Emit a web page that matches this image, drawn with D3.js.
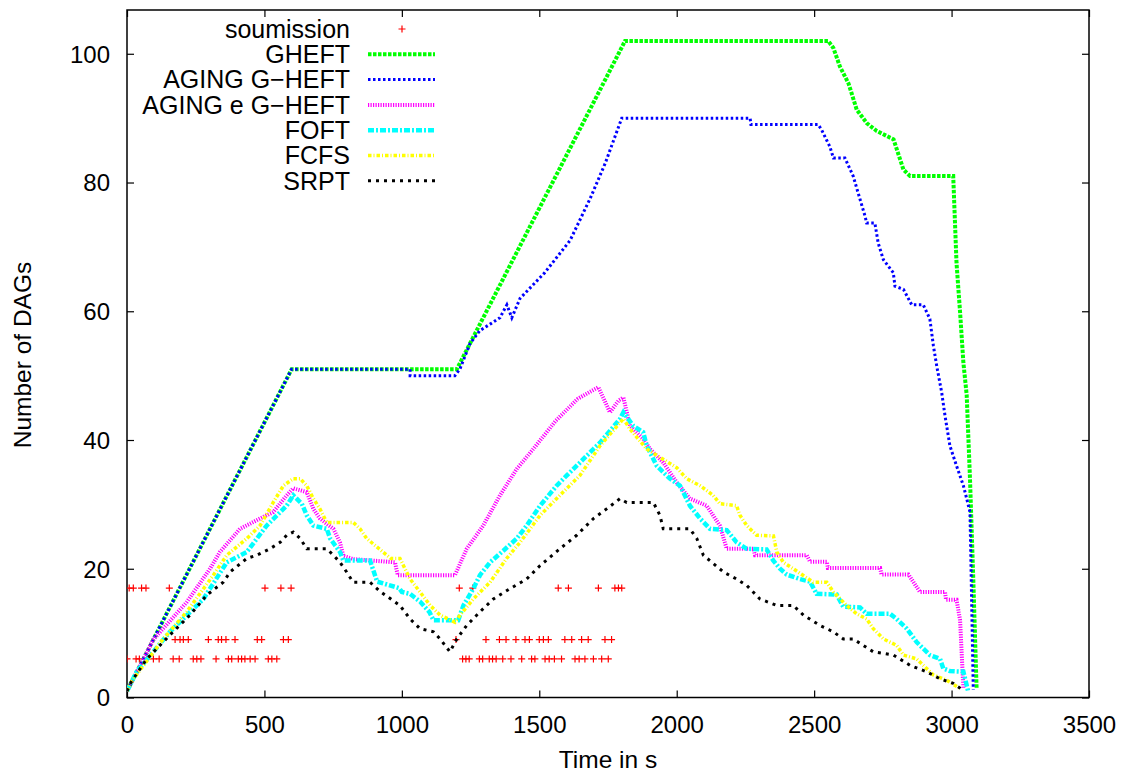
<!DOCTYPE html>
<html>
<head>
<meta charset="utf-8">
<title>Number of DAGs</title>
<script src="https://cdn.jsdelivr.net/npm/d3@7"></script>
<style>
  body { margin: 0; background: #fff; }
  text { font-family: "Liberation Sans", Arial, Helvetica, sans-serif; }
</style>
</head>
<body>
<div id="chart"></div>
<script>
// values: [time in s, number of DAGs]
const gheft = [[0,1],[599,51],[1200,51],[1721,94.4],[1812,102],[2551,102],[2570,100.9],[2594,98],[2625,95.4],[2655,91.3],[2692,89.2],[2728,88],[2789,86.7],[2825,82],[2849,81],[3006,81],[3018,67.5],[3031,59.8],[3043,52],[3055,47],[3067,34],[3079,18.4],[3091,1.5]]

const agingGheft = [[0,1],[599,51],[1030,51],[1030,50],[1193,50],[1211,51],[1248,55],[1284,57],[1321,58],[1357,59],[1382,61],[1400,59],[1430,62],[1520,66],[1612,71],[1685,77.5],[1740,83],[1800,90],[2267,90],[2270,89],[2515,89],[2527,88.2],[2557,85.6],[2570,83.8],[2612,83.8],[2642,81],[2660,78.4],[2685,74.8],[2691,73.7],[2721,73.7],[2733,70.6],[2752,68],[2788,66],[2794,63.9],[2825,63.4],[2855,61],[2897,61],[2921,58.8],[2934,54.6],[2946,51.5],[2964,47.4],[2976,43.8],[2994,39.1],[3018,36],[3043,32.9],[3055,30.9],[3067,28.8],[3079,1.2]]

const agingEGheft = [[0,1],[96,9],[217,14.8],[302,20],[338,22.6],[411,26.2],[484,27.8],[532,28.8],[581,31.4],[605,32.5],[654,31.9],[678,29.3],[702,27.8],[751,26.2],[775,24.1],[787,22],[823,21.5],[975,21],[985,19],[1193,19],[1236,23.1],[1296,26.7],[1357,31.4],[1418,35.5],[1478,38.6],[1560,43],[1640,46.4],[1685,47.5],[1715,48.2],[1757,44.3],[1790,46.2],[1806,46.6],[1830,42.2],[1878,40.2],[1903,38.6],[1951,36.5],[2000,33.4],[2048,30.9],[2109,29.8],[2157,26.7],[2182,23.1],[2279,23.1],[2285,22.1],[2473,22.1],[2485,21.1],[2546,21.1],[2550,20.1],[2740,20.1],[2745,19.1],[2843,19.1],[2885,16.4],[2976,16.4],[2980,15.2],[3018,15.2],[3031,12],[3043,1.4]]

const foft = [[0,1],[35,4],[156,10.2],[278,15.3],[363,21],[436,22.6],[508,26.7],[581,29.8],[605,31.4],[636,30.1],[654,28.3],[678,26.7],[727,26.2],[739,24.7],[775,22.6],[787,21.3],[884,21.3],[910,18],[990,17],[1000,16.4],[1030,16.1],[1066,14.9],[1100,13.3],[1115,12],[1205,12],[1224,14.3],[1260,16.9],[1284,19],[1321,21],[1369,22.8],[1418,24.7],[1454,26.7],[1503,29.8],[1563,32.9],[1600,34.5],[1648,36.5],[1697,38.6],[1721,39.6],[1794,43.3],[1806,44.3],[1842,42.2],[1878,41.2],[1891,39.1],[1927,36],[1975,34],[2012,32.9],[2048,29.8],[2085,27.8],[2121,26.2],[2182,26],[2218,24.1],[2255,23.1],[2327,23],[2351,21.3],[2376,20],[2400,19.1],[2448,18.4],[2485,18],[2509,16.1],[2582,16],[2606,14.1],[2667,14],[2691,13],[2776,13],[2800,12.2],[2837,10.7],[2873,8.6],[2921,6.6],[2958,6],[2970,4.5],[2994,4.1],[3043,4],[3055,1.9],[3060,1]]

const fcfs = [[0,1],[15,2.4],[132,9.1],[217,13.3],[314,19],[363,22.1],[436,24.7],[484,26.7],[532,30.3],[569,32.9],[605,34],[630,34],[654,32.9],[678,30.9],[702,29.3],[727,27.2],[823,27.2],[848,26.2],[872,24.7],[920,23],[960,21.6],[993,21.6],[1030,18.4],[1066,16.4],[1103,14.3],[1139,12.8],[1193,11.7],[1212,12.8],[1260,15.3],[1321,17.9],[1381,21.6],[1430,24.1],[1503,28.3],[1575,31.4],[1648,34.5],[1721,39.1],[1794,42.7],[1806,43.3],[1830,41.7],[1891,38.6],[1951,37],[2000,35.7],[2036,34],[2085,32.9],[2133,31.4],[2157,30.1],[2218,29.8],[2230,28.3],[2255,26.7],[2291,25.2],[2352,25.1],[2364,22.6],[2388,21],[2424,20],[2497,17.9],[2546,17.9],[2570,16.4],[2618,14.3],[2655,13],[2691,12.2],[2715,10.7],[2752,9.1],[2800,8.1],[2825,6.6],[2873,6],[2897,5],[2934,3.5],[2982,2.7],[3031,1.4]]

const srpt = [[0,1],[15,2.4],[72,6],[156,9.7],[229,12.8],[290,15.9],[350,17.9],[375,19.5],[436,21.6],[472,22.1],[520,23.1],[557,24.1],[581,25.2],[605,25.7],[630,24.7],[654,23.1],[727,23.1],[751,22.1],[775,21],[799,19.5],[823,17.9],[884,17.9],[920,16.5],[960,15.3],[993,14.3],[1030,12.2],[1066,10.7],[1115,10.2],[1139,9.1],[1175,7.1],[1200,9.1],[1236,11.2],[1284,13.3],[1333,15.3],[1393,16.9],[1454,18.4],[1503,20.5],[1575,23.1],[1636,25.2],[1697,27.8],[1745,29.3],[1794,30.9],[1818,30.3],[1915,30.3],[1939,28.3],[1951,26.2],[2048,26.2],[2073,24.7],[2097,22.1],[2170,19.5],[2218,18.4],[2255,17.4],[2303,15.3],[2364,14.3],[2424,14.3],[2461,12.8],[2521,11.2],[2570,10.2],[2606,9.1],[2642,9.1],[2715,7.1],[2788,6.6],[2849,5],[2909,4],[2958,2.9],[3006,2.2],[3043,1.1]]

// submission times, one list per level seen in the picture
const subLevels = [17, 9, 6]
const subTimes17 = [8,23,53,69,154,502,560,597,1209,1258,1569,1606,1715,1775,1788,1800]
const subTimes9 = [175,193,205,223,296,332,344,360,393,474,490,569,587,1197,1306,1355,1379,1415,1448,1464,1500,1515,1533,1593,1618,1654,1678,1739,1763]
const subTimes6 = [0,33,45,72,96,117,168,190,241,254,269,324,369,381,405,417,429,448,466,514,527,545,1221,1233,1245,1282,1294,1318,1330,1343,1367,1397,1436,1472,1484,1521,1536,1555,1581,1630,1645,1666,1697,1727,1751]

const xTicks = [0, 500, 1000, 1500, 2000, 2500, 3000, 3500]
const yTicks = [0, 20, 40, 60, 80, 100]

const w = 1131
const h = 778
const mLeft = 127, mRight = 1089, mTop = 10, mBottom = 697.5

const svg = d3.select("#chart").append("svg")
    .attr("width", w)
    .attr("height", h)

const x = d3.scaleLinear().domain([0, 3500]).range([mLeft, mRight])
const y = d3.scaleLinear().domain([0, 106.8]).range([mBottom, mTop])

svg.append("clipPath").attr("id", "clip")
    .append("rect")
    .attr("x", mLeft).attr("y", mTop)
    .attr("width", mRight - mLeft).attr("height", mBottom - mTop)

// axes, ticks pointing inwards on all four sides
const tickFont = "24px"
const gx = svg.append("g")
    .attr("transform", `translate(0,${mBottom})`)
    .call(d3.axisBottom(x).tickValues(xTicks).tickSize(-7).tickPadding(0).tickFormat(d3.format("d")))
gx.selectAll("text").attr("y", 35).attr("dy", 0).style("font-size", tickFont).attr("fill", "#000")

svg.append("g")
    .attr("transform", `translate(0,${mTop})`)
    .call(d3.axisTop(x).tickValues(xTicks).tickSize(-7).tickFormat(""))

const gy = svg.append("g")
    .attr("transform", `translate(${mLeft},0)`)
    .call(d3.axisLeft(y).tickValues(yTicks).tickSize(-7).tickPadding(0))
gy.selectAll("text").attr("x", -17).attr("dy", "0.35em").style("font-size", tickFont).attr("fill", "#000")

svg.append("g")
    .attr("transform", `translate(${mRight},0)`)
    .call(d3.axisRight(y).tickValues(yTicks).tickSize(-7).tickFormat(""))

svg.selectAll(".domain").remove()
svg.selectAll(".tick line").attr("stroke", "#000").attr("stroke-width", 1.2)

svg.append("rect")
    .attr("x", mLeft).attr("y", mTop)
    .attr("width", mRight - mLeft).attr("height", mBottom - mTop)
    .attr("fill", "none").attr("stroke", "#000").attr("stroke-width", 1.5)

// series
const series = [
    { name: "GHEFT", data: gheft, color: "#00ff00", width: 4, dash: "3.5,1.5" },
    { name: "AGING G\u2212HEFT", data: agingGheft, color: "#0000ff", width: 3, dash: "2.5,2.5" },
    { name: "AGING e G\u2212HEFT", data: agingEGheft, color: "#ff00ff", width: 4, dash: "1.2,1.3" },
    { name: "FOFT", data: foft, color: "#00ffff", width: 4.5, dash: "6,2,2,2" },
    { name: "FCFS", data: fcfs, color: "#ffff00", width: 3.5, dash: "3.5,2,1,2" },
    { name: "SRPT", data: srpt, color: "#000000", width: 3, dash: "3,5" }
]

const line = d3.line().x(d => x(d[0])).y(d => y(d[1]))

const plot = svg.append("g").attr("clip-path", "url(#clip)")

const subs = [subTimes17, subTimes9, subTimes6]
    .flatMap((times, i) => times.map(t => [t, subLevels[i]]))

const cross = "M-3.5,0H3.5M0,-3.5V3.5"
plot.selectAll(".sub")
    .data(subs)
    .enter()
    .append("path")
    .attr("class", "sub")
    .attr("transform", d => `translate(${x(d[0])},${y(d[1])})`)
    .attr("d", cross)
    .attr("stroke", "#ff0000")
    .attr("stroke-width", 1.2)

series.forEach(s => {
    plot.append("path")
        .datum(s.data)
        .attr("d", line)
        .attr("fill", "none")
        .attr("stroke", s.color)
        .attr("stroke-width", s.width)
        .attr("stroke-dasharray", s.dash)
})

// legend
const legend = svg.append("g")
const rowY = i => 29 + i * 25.3
const items = [{ name: "soumission" }].concat(series)
items.forEach((s, i) => {
    legend.append("text")
        .attr("x", 350)
        .attr("y", rowY(i) + 8.7)
        .attr("text-anchor", "end")
        .style("font-size", "25px")
        .text(s.name)
    if (i === 0) {
        legend.append("path")
            .attr("transform", `translate(402,${rowY(i)})`)
            .attr("d", cross)
            .attr("stroke", "#ff0000")
            .attr("stroke-width", 1.2)
    } else {
        legend.append("line")
            .attr("x1", 368).attr("x2", 435)
            .attr("y1", rowY(i)).attr("y2", rowY(i))
            .attr("stroke", s.color)
            .attr("stroke-width", s.width)
            .attr("stroke-dasharray", s.dash)
    }
})

// axis titles
svg.append("text")
    .attr("x", (mLeft + mRight) / 2)
    .attr("y", 768)
    .attr("text-anchor", "middle")
    .style("font-size", "24.5px")
    .text("Time in s")

svg.append("text")
    .attr("transform", "translate(31,355) rotate(-90)")
    .attr("text-anchor", "middle")
    .style("font-size", "24.5px")
    .text("Number of DAGs")
</script>
</body>
</html>
